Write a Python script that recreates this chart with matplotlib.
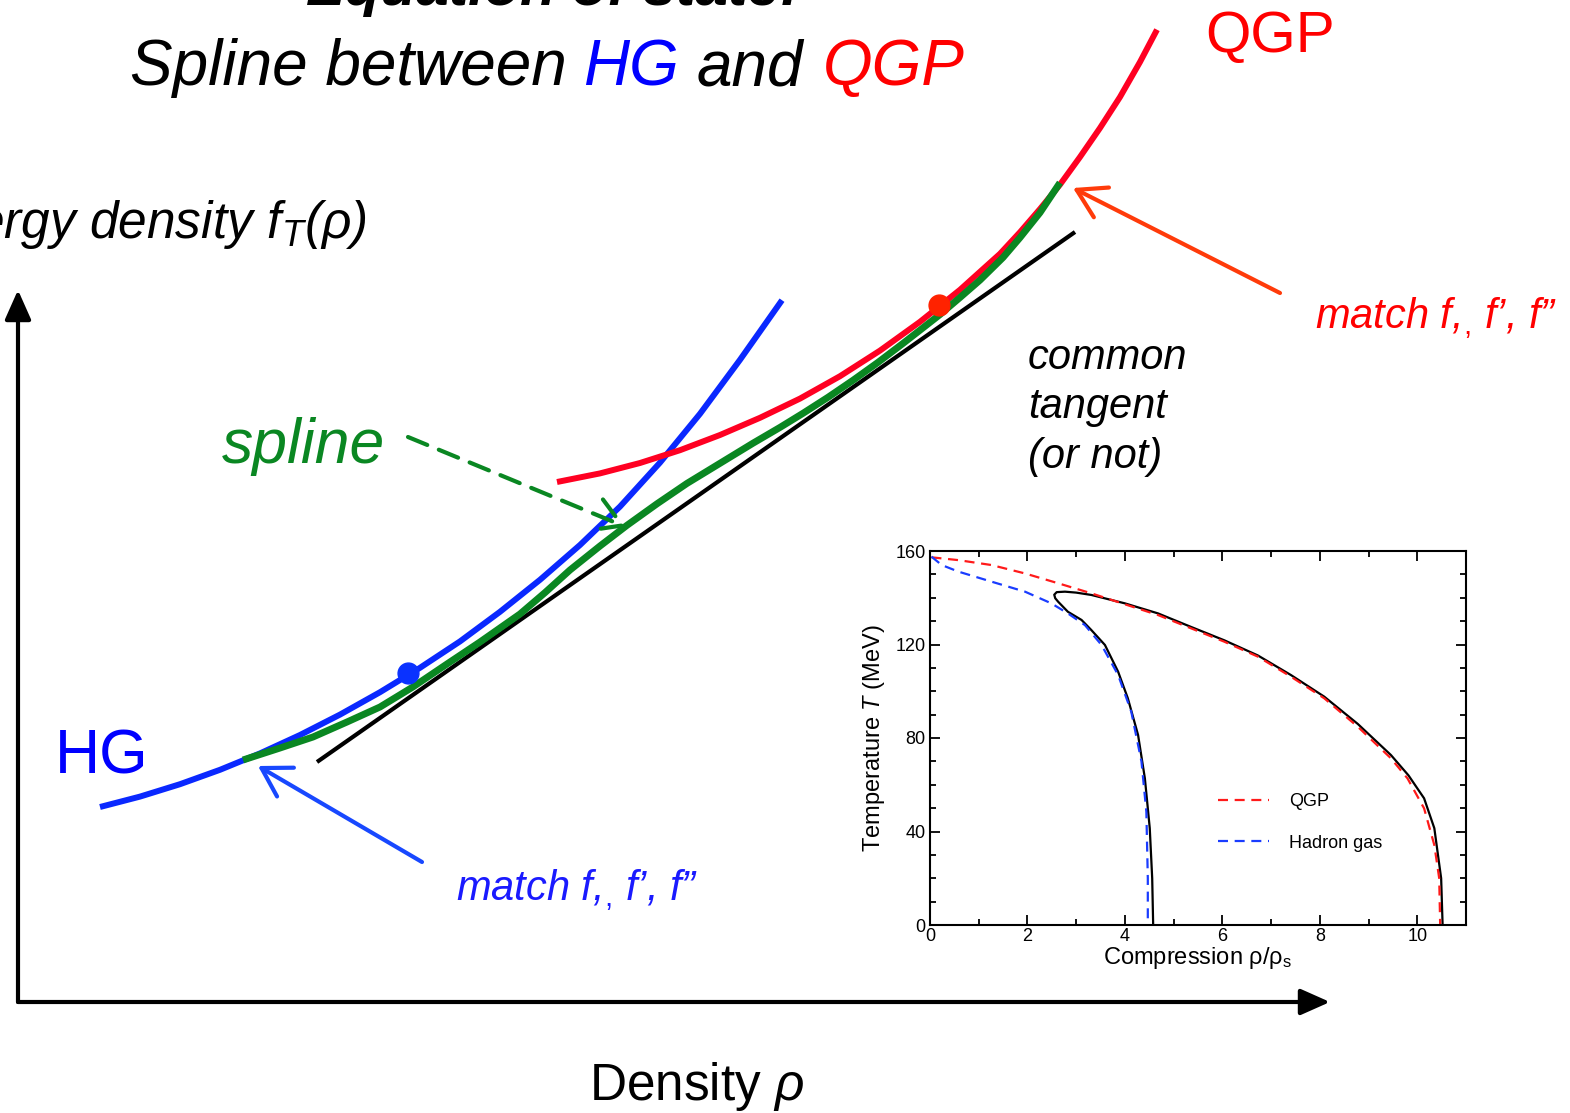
import matplotlib
matplotlib.use("Agg")
import matplotlib.pyplot as plt
import numpy as np

plt.rcParams['font.family'] = ['Liberation Sans', 'DejaVu Sans']
plt.rcParams['mathtext.fontset'] = 'custom'
plt.rcParams['mathtext.rm'] = 'Liberation Sans'
plt.rcParams['mathtext.it'] = 'Liberation Sans:italic'
plt.rcParams['mathtext.bf'] = 'Liberation Sans:bold'

#%% schematic curves (density rho, free energy f), arbitrary units
hg_rho = [82, 122, 162, 202, 242, 282, 322, 362, 402, 442, 482, 522, 562, 602, 642, 682, 722, 764]
hg_f = [195, 205.4, 217.8, 232.2, 248.6, 267, 287.4, 309.8, 334.2, 360.6, 390.2, 422.2, 457, 495.4,
        539.4, 588.2, 642.2, 701.8]

qgp_rho = [539, 582, 622, 662, 702, 742, 782, 822, 862, 902, 942, 982, 1002, 1022, 1042, 1062, 1082,
           1102, 1122, 1139]
qgp_f = [520, 528.6, 539, 551.8, 567, 584.2, 603.4, 625.8, 651.4, 680.2, 712.2, 748.2, 769.8, 793,
         817.4, 845, 874, 905, 940, 972.3]

spl_rho = [225, 262, 295, 329, 362, 395, 429, 462, 502, 527, 552, 582, 609, 639, 669, 702, 735, 762,
           785, 810, 835, 860, 885, 904, 922, 942, 962, 985, 1002, 1022, 1042]
spl_f = [242, 254, 265, 280, 295, 315.1, 338, 360, 388, 409.4, 432, 456, 476.7, 498.2, 518.6, 538.7,
         558.8, 574.6, 588.7, 604.7, 621.7, 639.6, 658.6, 673.4, 687.5, 704.5, 721.9, 744.5, 764.4,
         789.4, 819.3]

tan_rho = [299, 1057]
tan_f = [240, 770]

match_hg = (390, 329)
match_qgp = (921, 697)

#%% inset data: phase coexistence, T (MeV) vs rho/rho_s
qgp_x = [0.03, 0.58, 1.26, 1.95, 2.63, 3.31, 4.0, 4.68, 5.36, 6.04, 6.73, 7.41, 8.09, 8.78, 9.46, 9.8,
         10.14, 10.35, 10.45, 10.47]
qgp_T = [157.3, 156.1, 154, 150.4, 146.2, 141.9, 137.2, 132.6, 126.9, 121.2, 114.8, 106.2, 97, 84.8,
         71.3, 62.7, 49.9, 34.2, 20, 0]

hg_x = [0.03, 0.24, 0.58, 1.26, 1.95, 2.49, 2.83, 3.18, 3.52, 3.86, 4.13, 4.34, 4.44, 4.47, 4.47]
hg_T = [157.6, 154, 151.2, 146.9, 142.6, 137.6, 133.3, 128.3, 119.8, 107, 91.3, 69.9, 48.5, 20, 0]

coex_x = [4.58, 4.56, 4.51, 4.41, 4.27, 4.06, 3.86, 3.59, 3.31, 3.11, 2.83, 2.63, 2.57, 2.55, 2.6,
          2.77, 3.0, 3.31, 4.0, 4.68, 5.36, 6.04, 6.73, 7.41, 8.09, 8.78, 9.46, 9.82, 10.14, 10.35,
          10.49, 10.52]
coex_T = [0, 20, 41.4, 62.7, 81.3, 97, 108.4, 119.8, 126.2, 130.5, 134, 138.3, 139.8, 141.3, 142.4,
          142.6, 142.2, 141.2, 137.6, 133.3, 127.5, 121.8, 115.3, 106.9, 97.7, 86, 72.7, 64, 54.2, 41.4,
          20, 0]

fig = plt.figure(figsize=(15.7, 11.13), dpi=100)
ax = fig.add_axes([0, 0, 1, 1])
ax.set_xlim(-18, 1552)
ax.set_ylim(-111, 1002)
ax.axis('off')

# axes arrows
head = '-|>,head_length=0.45,head_width=0.2'
ax.annotate('', xy=(0, 712), xytext=(0, 0),
            arrowprops=dict(arrowstyle=head, lw=3, color='k', mutation_scale=40, shrinkA=0, shrinkB=0))
ax.annotate('', xy=(1312, 0), xytext=(0, 0),
            arrowprops=dict(arrowstyle=head, lw=3, color='k', mutation_scale=40, shrinkA=0, shrinkB=0))

ax.plot(tan_rho, tan_f, color='k', lw=3, solid_capstyle='butt')
ax.plot(hg_rho, hg_f, color='#0A28FF', lw=4.3, solid_capstyle='butt', solid_joinstyle='round')
ax.plot(qgp_rho, qgp_f, color='#FF0022', lw=4.3, solid_capstyle='butt', solid_joinstyle='round')
ax.plot(spl_rho, spl_f, color='#0A8722', lw=5, solid_capstyle='butt', solid_joinstyle='round')
ax.plot(*match_hg, 'o', color='#0A32FF', ms=15)
ax.plot(*match_qgp, 'o', color='#FF2200', ms=15)

# pointer arrows
ptr = '->,head_length=0.5,head_width=0.3'
ax.annotate('', xy=(240, 236), xytext=(404, 140),
            arrowprops=dict(arrowstyle=ptr, lw=3, color='#1848FF', mutation_scale=40, shrinkA=0, shrinkB=0))
ax.annotate('', xy=(1055, 814), xytext=(1262, 709),
            arrowprops=dict(arrowstyle=ptr, lw=3, color='#FF3B0A', mutation_scale=40, shrinkA=0, shrinkB=0))
ax.annotate('', xy=(608, 475), xytext=(390, 565),
            arrowprops=dict(arrowstyle=ptr, lw=3, color='#0A8722', linestyle=(0, (5, 3)),
                            mutation_scale=40, shrinkA=0, shrinkB=0))

# text
ax.text(535, 997, 'Equation of state:', fontsize=42, style='italic', weight='bold',
        ha='center', va='baseline')
ax.text(112, 917, 'Spline between', fontsize=46, style='italic', va='baseline')
ax.text(565, 917, 'HG', fontsize=46, style='italic', va='baseline', color='#0000FF')
ax.text(679, 917, 'and', fontsize=46, style='italic', va='baseline')
ax.text(805, 917, 'QGP', fontsize=46, style='italic', va='baseline', color='#FF0000')
ax.text(1187, 950, 'QGP', fontsize=42, va='baseline', color='#FF0000')
ax.text(37, 229, 'HG', fontsize=45, va='baseline', color='#0000FF')
ax.text(204, 539, 'spline', fontsize=45, style='italic', va='baseline', color='#0A8722')
ax.text(349, 764, r'Free energy density f$_{T}$($\rho$)', fontsize=37, style='italic',
        ha='right', va='baseline')
ax.text(1297, 674, 'match f,$_{,}$ f\u2019, f\u201d', fontsize=30, style='italic',
        va='baseline', color='#FF0000')
ax.text(438, 102, 'match f,$_{,}$ f\u2019, f\u201d', fontsize=30, style='italic',
        va='baseline', color='#1A1AFF')
ax.text(1010, 534, 'common\ntangent\n(or not)', fontsize=30, style='italic',
        va='baseline', linespacing=1.31)
ax.text(679, -98, r'Density $\rho$', fontsize=37, ha='center', va='baseline')

#%% inset
ins = fig.add_axes([930 / 1570, 1 - 925 / 1113, 536 / 1570, 374 / 1113])
ins.plot(coex_x, coex_T, color='k', lw=1.6)
ins.plot(qgp_x, qgp_T, color='#FF1A1A', lw=1.6, linestyle=(0, (4.5, 3)), label='QGP')
ins.plot(hg_x, hg_T, color='#1A3CFF', lw=1.6, linestyle=(0, (4.5, 3)), label='Hadron gas')
ins.set_xlim(0, 11)
ins.set_ylim(0, 160)
ins.set_xticks(np.arange(0, 11, 2))
ins.set_xticks(np.arange(0, 12, 1), minor=True)
ins.set_yticks(np.arange(0, 161, 40))
ins.set_yticks(np.arange(0, 161, 10), minor=True)
ins.tick_params(which='both', direction='in', top=True, right=True, width=1.3, labelsize=13)
ins.tick_params(which='major', length=7)
ins.tick_params(which='minor', length=4)
ins.tick_params(axis='y', pad=3)
ins.tick_params(axis='x', pad=2)
for s in ins.spines.values():
    s.set_linewidth(1.5)
ins.set_xlabel('Compression \u03c1/\u03c1$_{\\mathrm{s}}$', fontsize=17, labelpad=0)
ins.set_ylabel('Temperature $\\mathit{T}$ (MeV)', fontsize=17, labelpad=6)
ins.legend(loc='upper left', bbox_to_anchor=(0.538, 0.352), frameon=False, fontsize=13,
           handlelength=2.8, handletextpad=1.1, labelspacing=1.35, borderpad=0, borderaxespad=0)

plt.savefig("out.png", dpi=100)
